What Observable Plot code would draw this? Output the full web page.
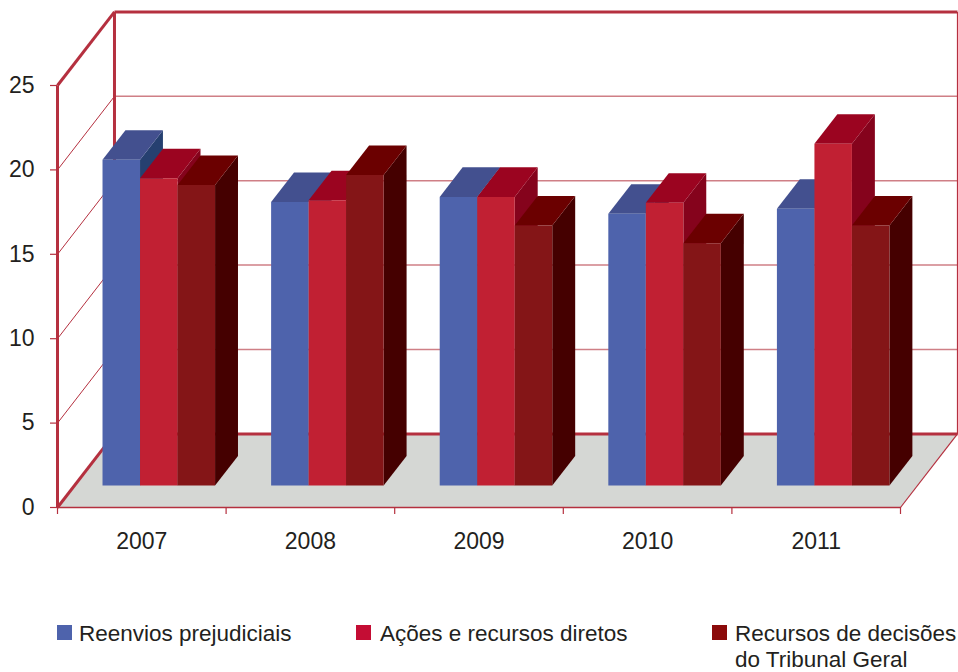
<!DOCTYPE html>
<html lang="pt">
<head>
<meta charset="utf-8">
<script src="https://cdn.jsdelivr.net/npm/d3@7"></script>
<script src="https://cdn.jsdelivr.net/npm/@observablehq/plot@0.6"></script>
<style>
html,body{margin:0;padding:0;background:#fff;}
body{width:958px;height:672px;position:relative;font-family:"Liberation Sans",sans-serif;color:#231f20;}
#chart svg{display:block;}
.lg{position:absolute;font-size:22.5px;line-height:26px;white-space:nowrap;}
.sw{position:absolute;top:625px;width:15px;height:15px;}
</style>
</head>
<body>
<div id="chart"></div>
<script>
const years = ["2007", "2008", "2009", "2010", "2011"];
const seriesNames = ["Reenvios prejudiciais", "Ações e recursos diretos", "Recursos de decisões", "do Tribunal Geral"];
const reenvios = [19.3, 16.8, 17.1, 16.1, 16.4];
const acoes = [18.2, 16.9, 17.1, 16.75, 20.25];
const recursos = [17.8, 18.4, 15.4, 14.35, 15.4];
const yTicks = [0, 5, 10, 15, 20, 25];

// Projection of the pseudo-3D box, in data units
const wallDx = 0.338, wallDy = 4.36;
const barBase = 1.3, barStart = 0.267, barWidth = 0.2225, depthDx = 0.136, depthDy = 1.75;
const series = [
  {values: reenvios, front: "#4e63ac", top: "#43508f", side: "#264070"},
  {values: acoes, front: "#c12033", top: "#9b0420", side: "#85031c"},
  {values: recursos, front: "#841517", top: "#6b0000", side: "#450000"}
];

const polys = [];
let pid = 0;
const addPoly = (fill, pts) => { pid++; pts.forEach(([x, y]) => polys.push({id: pid, x, y, fill})); };

// floor
addPoly("#d5d7d4", [[0, 0], [5, 0], [5 + wallDx, wallDy], [wallDx, wallDy]]);
// bars
years.forEach((yr, i) => {
  series.forEach((s, j) => {
    const x0 = i + barStart + j * barWidth, x1 = x0 + barWidth, v = s.values[i];
    addPoly(s.side, [[x1, barBase], [x1 + depthDx, barBase + depthDy], [x1 + depthDx, v + barBase + depthDy], [x1, v + barBase]]);
    addPoly(s.top, [[x0, v + barBase], [x1, v + barBase], [x1 + depthDx, v + barBase + depthDy], [x0 + depthDx, v + barBase + depthDy]]);
    addPoly(s.front, [[x0, barBase], [x1, barBase], [x1, v + barBase], [x0, v + barBase]]);
  });
});

const floorIdx = polys.filter(d => d.id === 1);
const barPolys = polys.filter(d => d.id !== 1);

const gridBack = yTicks.slice(1, -1);
const strong = "#b5303f", soft = "#cf7f86";

const plot = Plot.plot({
  width: 958, height: 612,
  marginLeft: 57, marginRight: 58, marginTop: 85, marginBottom: 105,
  x: {domain: [0, 5], range: [57, 900]},
  y: {domain: [0, 25], range: [507, 85]},
  style: {fontFamily: "'Liberation Sans', sans-serif", color: "#231f20", background: "#fff", overflow: "visible"},
  marks: [
    // floor
    Plot.line(floorIdx, {x: "x", y: "y", z: "id", fill: "fill", stroke: null}),
    // back wall grid lines
    Plot.link(gridBack, {x1: wallDx, x2: 5 + wallDx, y1: d => d + wallDy, y2: d => d + wallDy, stroke: soft, strokeWidth: 1.5}),
    // left wall grid lines
    Plot.link(gridBack, {x1: 0, x2: wallDx, y1: d => d, y2: d => d + wallDy, stroke: strong, strokeWidth: 1}),
    // right edges
    Plot.link([0], {x1: 5, x2: 5 + wallDx, y1: 0, y2: wallDy, stroke: strong, strokeWidth: 1.2}),
    Plot.link([0], {x1: 5 + wallDx, x2: 5 + wallDx, y1: wallDy, y2: 25 + wallDy, stroke: strong, strokeWidth: 1.2}),
    // heavy frame
    Plot.link([0], {x1: wallDx, x2: 5 + wallDx, y1: wallDy, y2: wallDy, stroke: strong, strokeWidth: 3}),
    Plot.link([0], {x1: wallDx, x2: 5 + wallDx, y1: 25 + wallDy, y2: 25 + wallDy, stroke: strong, strokeWidth: 3}),
    Plot.link([0], {x1: wallDx, x2: wallDx, y1: wallDy, y2: 25 + wallDy, stroke: strong, strokeWidth: 3}),
    Plot.link([0], {x1: 0, x2: 0, y1: 0, y2: 25, stroke: strong, strokeWidth: 3}),
    Plot.link([0], {x1: 0, x2: wallDx, y1: 25, y2: 25 + wallDy, stroke: strong, strokeWidth: 3}),
    Plot.link([0], {x1: 0, x2: wallDx, y1: 0, y2: wallDy, stroke: strong, strokeWidth: 3}),
    Plot.link([0], {x1: 0, x2: 5, y1: 0, y2: 0, stroke: strong, strokeWidth: 1.5}),
    // bars
    Plot.line(barPolys, {x: "x", y: "y", z: "id", fill: "fill", stroke: null}),
    // axes
    Plot.axisY({ticks: yTicks, tickSize: 7, tickPadding: 16, fontSize: 23, label: null, stroke: strong, color: "#231f20", strokeWidth: 1.2}),
    Plot.axisX({ticks: d3.range(0, 6), tickSize: 7, tickFormat: () => "", label: null, stroke: strong, strokeWidth: 1.2}),
    Plot.axisX({ticks: years.map((_, i) => i + 0.5), tickSize: 0, tickPadding: 25, fontSize: 23, label: null, tickFormat: v => years[v - 0.5]})
  ]
});
document.getElementById("chart").appendChild(plot);

// legend
const swatches = [
  {color: "#4e63ac", left: 57},
  {color: "#c40d34", left: 356},
  {color: "#8b0a0a", left: 712}
];
const labels = [
  {left: 79, top: 621, text: seriesNames[0]},
  {left: 380, top: 621, text: seriesNames[1]},
  {left: 735, top: 621, text: seriesNames[2]},
  {left: 735, top: 647, text: seriesNames[3]}
];
swatches.forEach(s => {
  const sw = document.createElement("div");
  sw.className = "sw"; sw.style.left = s.left + "px"; sw.style.background = s.color;
  document.body.append(sw);
});
labels.forEach(l => {
  const tx = document.createElement("div");
  tx.className = "lg"; tx.style.left = l.left + "px"; tx.style.top = l.top + "px"; tx.textContent = l.text;
  document.body.append(tx);
});
</script>
</body>
</html>
